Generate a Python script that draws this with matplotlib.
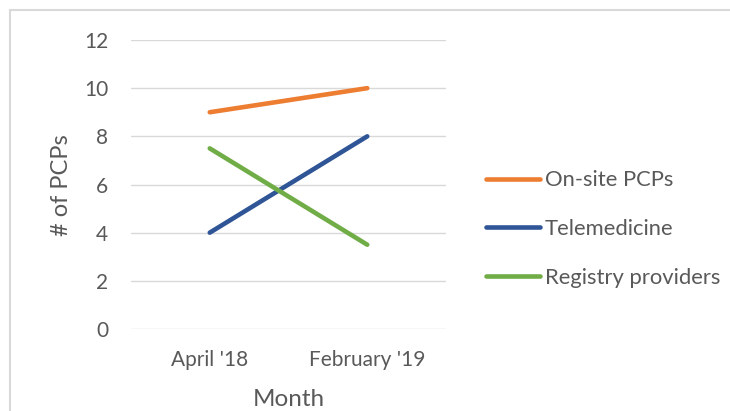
import matplotlib
matplotlib.use("Agg")
import matplotlib.pyplot as plt
from matplotlib.patches import Rectangle

months = ["April '18", "February '19"]
onsite = [9, 10]
telemed = [4, 8]
registry = [7.5, 3.5]
series_names = ["On-site PCPs", "Telemedicine", "Registry providers"]

plt.rcParams['font.family'] = ['Lato', 'DejaVu Sans']
txt = '#595959'

fig = plt.figure(figsize=(7.3, 4.11), dpi=100)
ax = fig.add_axes([131/730, 1-329/411, 315/730, 289/411])

x = range(len(months))
ax.plot(x, onsite, color='#ED7D31', lw=3.3, solid_capstyle='round', label=series_names[0])
ax.plot(x, telemed, color='#2F5597', lw=3.3, solid_capstyle='round', label=series_names[1])
ax.plot(x, registry, color='#70AD47', lw=3.3, solid_capstyle='round', label=series_names[2])

ax.set_xlim(-0.5, 1.5)
ax.set_ylim(0, 12)
ax.set_yticks(range(0, 13, 2))
ax.set_xticks(list(x))
ax.set_xticklabels(months)
ax.yaxis.grid(True, color='#D9D9D9', lw=1)
ax.set_axisbelow(True)
for s in ax.spines.values():
    s.set_visible(False)
ax.tick_params(length=0, labelsize=15, labelcolor=txt)
ax.tick_params(axis='y', pad=16.5)
ax.tick_params(axis='x', pad=15)

fig.text(62/730, 1-185/411, "# of PCPs", rotation=90, ha='center', va='center', fontsize=17, color=txt)
fig.text(289/730, 1-399/411, "Month", ha='center', va='center', fontsize=17.5, color=txt)

leg = ax.legend(loc='center left', bbox_to_anchor=(486/730, 1-229/411), bbox_transform=fig.transFigure,
                frameon=False, fontsize=15.8, handlelength=2.45, handletextpad=0.22, labelspacing=1.3,
                borderaxespad=0, borderpad=0)
for t in leg.get_texts():
    t.set_color(txt)

fig.patches.append(Rectangle((10/730, -0.05), 1, 1-10/411+0.05, transform=fig.transFigure,
                             fill=False, edgecolor='#D9D9D9', lw=1.5))

fig.savefig("out.png", dpi=100, facecolor='white')
